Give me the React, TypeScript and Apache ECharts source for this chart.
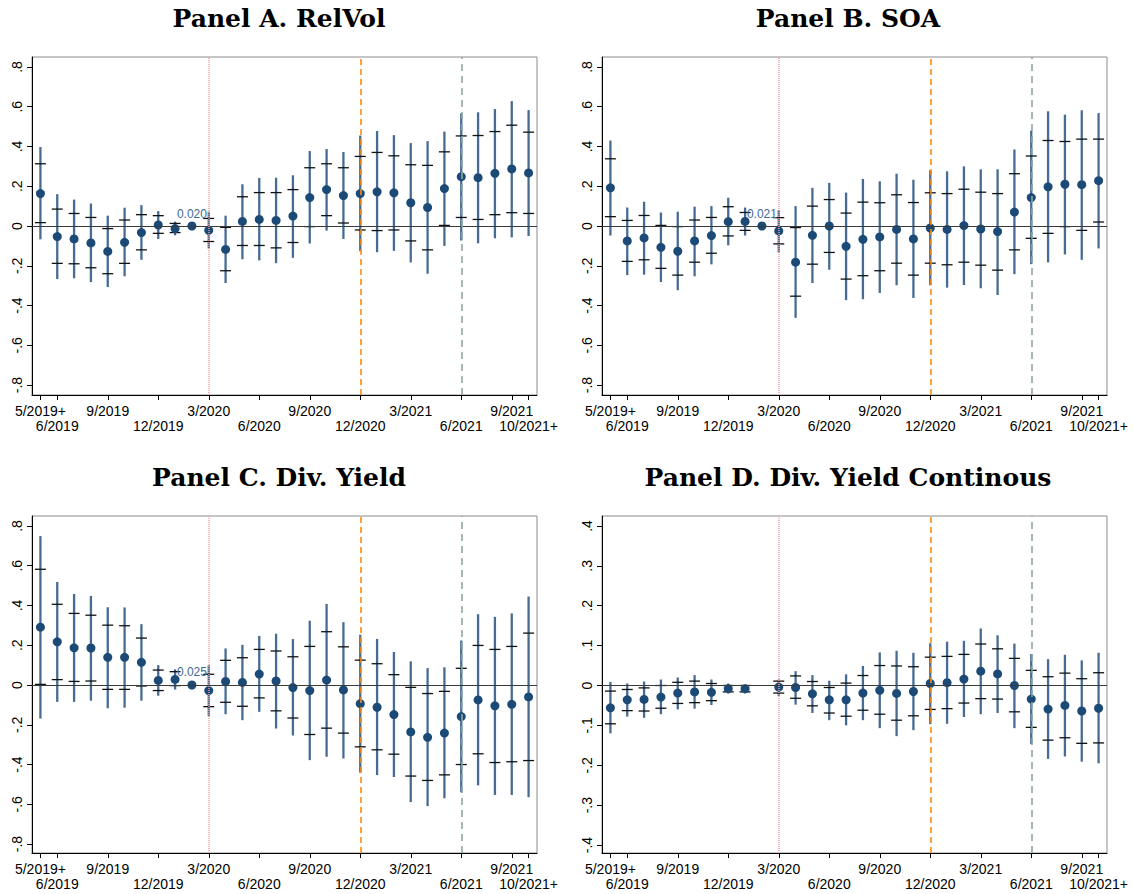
import React, { useEffect, useRef } from "react";
import * as echarts from "echarts";

// Event-time months (x positions 0..29)
const months = [
  "5/2019+", "6/2019", "7/2019", "8/2019", "9/2019", "10/2019", "11/2019", "12/2019",
  "1/2020", "2/2020", "3/2020", "4/2020", "5/2020", "6/2020", "7/2020", "8/2020",
  "9/2020", "10/2020", "11/2020", "12/2020", "1/2021", "2/2021", "3/2021", "4/2021",
  "5/2021", "6/2021", "7/2021", "8/2021", "9/2021", "10/2021+",
];
const tickIdx = [0, 1, 4, 7, 10, 13, 16, 19, 22, 25, 28, 29];
const labelRow1 = [0, 4, 10, 16, 22, 28];
const labelRow2 = [1, 7, 13, 19, 25, 29];

// Panel A. RelVol
const relVolEst = [0.163, -0.053, -0.065, -0.085, -0.128, -0.082, -0.033, 0.005, -0.013, 0, -0.022, -0.118, 0.023, 0.033, 0.028, 0.05, 0.143, 0.183, 0.153, 0.163, 0.172, 0.167, 0.117, 0.093, 0.188, 0.248, 0.243, 0.265, 0.287, 0.267];
const relVolOuterHi = [0.397, 0.16, 0.133, 0.113, 0.052, 0.092, 0.105, 0.075, 0.022, null, 0.072, 0.052, 0.21, 0.242, 0.243, 0.255, 0.377, 0.387, 0.372, 0.455, 0.478, 0.457, 0.417, 0.427, 0.475, 0.567, 0.572, 0.588, 0.628, 0.583];
const relVolOuterLo = [-0.067, -0.267, -0.263, -0.282, -0.307, -0.253, -0.17, -0.065, -0.047, null, -0.113, -0.287, -0.167, -0.173, -0.187, -0.16, -0.088, -0.023, -0.065, -0.127, -0.132, -0.125, -0.183, -0.24, -0.1, -0.073, -0.087, -0.062, -0.057, -0.05];
const relVolInnerHi = [0.313, 0.085, 0.063, 0.043, -0.013, 0.03, 0.057, 0.052, 0.013, null, 0.038, -0.007, 0.147, 0.168, 0.168, 0.183, 0.293, 0.313, 0.293, 0.35, 0.37, 0.353, 0.308, 0.305, 0.373, 0.453, 0.455, 0.475, 0.507, 0.472];
const relVolInnerLo = [0.017, -0.188, -0.19, -0.21, -0.24, -0.188, -0.12, -0.037, -0.033, null, -0.078, -0.225, -0.098, -0.098, -0.11, -0.083, -0.003, 0.052, 0.015, -0.02, -0.023, -0.02, -0.075, -0.12, 0.003, 0.043, 0.033, 0.057, 0.067, 0.063];

// Panel B. SOA
const soaEst = [0.192, -0.075, -0.06, -0.107, -0.127, -0.075, -0.048, 0.022, 0.023, 0, -0.025, -0.182, -0.047, 0.0, -0.102, -0.067, -0.055, -0.017, -0.065, -0.01, -0.017, 0.002, -0.015, -0.028, 0.07, 0.143, 0.197, 0.21, 0.208, 0.228];
const soaOuterHi = [0.43, 0.093, 0.122, 0.068, 0.072, 0.097, 0.1, 0.142, 0.093, null, 0.08, 0.1, 0.192, 0.217, 0.168, 0.237, 0.225, 0.263, 0.233, 0.28, 0.275, 0.3, 0.285, 0.285, 0.385, 0.48, 0.577, 0.56, 0.582, 0.568];
const soaOuterLo = [-0.048, -0.247, -0.245, -0.282, -0.323, -0.253, -0.193, -0.097, -0.048, null, -0.133, -0.462, -0.287, -0.22, -0.373, -0.368, -0.337, -0.298, -0.362, -0.298, -0.31, -0.297, -0.313, -0.347, -0.242, -0.192, -0.183, -0.143, -0.17, -0.113];
const soaInnerHi = [0.338, 0.028, 0.053, 0.003, -0.003, 0.03, 0.043, 0.097, 0.068, null, 0.042, -0.008, 0.1, 0.133, 0.065, 0.12, 0.117, 0.157, 0.118, 0.167, 0.163, 0.185, 0.17, 0.163, 0.263, 0.352, 0.43, 0.425, 0.437, 0.437];
const soaInnerLo = [0.047, -0.178, -0.17, -0.213, -0.247, -0.182, -0.137, -0.05, -0.022, null, -0.09, -0.353, -0.192, -0.133, -0.267, -0.25, -0.225, -0.187, -0.247, -0.187, -0.195, -0.182, -0.197, -0.222, -0.12, -0.062, -0.037, -0.003, -0.022, 0.02];

// Panel C. Div. Yield
const divEst = [0.291, 0.217, 0.187, 0.186, 0.139, 0.139, 0.114, 0.023, 0.028, 0, -0.028, 0.018, 0.013, 0.055, 0.02, -0.013, -0.028, 0.025, -0.025, -0.094, -0.112, -0.149, -0.236, -0.263, -0.242, -0.159, -0.075, -0.105, -0.097, -0.06];
const divOuterHi = [0.749, 0.518, 0.458, 0.448, 0.391, 0.39, 0.306, 0.1, 0.079, null, 0.099, 0.184, 0.202, 0.247, 0.258, 0.231, 0.323, 0.408, 0.316, 0.253, 0.232, 0.166, 0.119, 0.085, 0.089, 0.224, 0.356, 0.343, 0.36, 0.445];
const divOuterLo = [-0.169, -0.085, -0.085, -0.079, -0.117, -0.114, -0.079, -0.054, -0.023, null, -0.157, -0.147, -0.177, -0.135, -0.219, -0.254, -0.378, -0.361, -0.37, -0.441, -0.453, -0.463, -0.589, -0.609, -0.57, -0.54, -0.505, -0.553, -0.553, -0.564];
const divInnerHi = [0.582, 0.406, 0.36, 0.351, 0.301, 0.298, 0.236, 0.075, 0.067, null, 0.054, 0.124, 0.137, 0.179, 0.171, 0.142, 0.194, 0.268, 0.192, 0.125, 0.107, 0.052, -0.012, -0.043, -0.032, 0.084, 0.199, 0.179, 0.194, 0.261];
const divInnerLo = [0.003, 0.027, 0.018, 0.02, -0.022, -0.022, -0.005, -0.028, -0.003, null, -0.109, -0.087, -0.107, -0.065, -0.13, -0.166, -0.249, -0.217, -0.242, -0.311, -0.326, -0.348, -0.458, -0.48, -0.452, -0.4, -0.346, -0.39, -0.386, -0.38];

// Panel D. Div. Yield Continous
const divContEst = [-0.056, -0.036, -0.035, -0.029, -0.019, -0.016, -0.017, -0.008, -0.008, null, -0.004, -0.005, -0.021, -0.036, -0.036, -0.019, -0.012, -0.02, -0.015, 0.005, 0.007, 0.016, 0.036, 0.029, 0, -0.034, -0.059, -0.05, -0.064, -0.057];
const divContOuterHi = [0.009, 0.005, 0.01, 0.015, 0.02, 0.026, 0.015, 0.005, 0.002, null, 0.015, 0.036, 0.026, 0.012, 0.028, 0.049, 0.083, 0.087, 0.082, 0.106, 0.11, 0.112, 0.143, 0.126, 0.105, 0.079, 0.066, 0.077, 0.063, 0.082];
const divContOuterLo = [-0.12, -0.078, -0.081, -0.072, -0.06, -0.058, -0.049, -0.02, -0.02, null, -0.026, -0.048, -0.069, -0.087, -0.1, -0.087, -0.107, -0.127, -0.112, -0.097, -0.096, -0.079, -0.072, -0.069, -0.107, -0.147, -0.184, -0.178, -0.191, -0.195];
const divContInnerHi = [-0.014, -0.01, -0.006, 0, 0.008, 0.011, 0.005, 0, 0, null, 0.011, 0.024, 0.01, -0.005, 0.006, 0.025, 0.05, 0.049, 0.047, 0.071, 0.073, 0.078, 0.104, 0.092, 0.068, 0.038, 0.022, 0.031, 0.017, 0.032];
const divContInnerLo = [-0.096, -0.063, -0.064, -0.057, -0.045, -0.043, -0.038, -0.016, -0.016, null, -0.019, -0.032, -0.051, -0.069, -0.077, -0.062, -0.072, -0.087, -0.076, -0.06, -0.058, -0.044, -0.033, -0.034, -0.066, -0.105, -0.137, -0.131, -0.145, -0.144];

const yTicksWide = [-0.8, -0.6, -0.4, -0.2, 0, 0.2, 0.4, 0.6, 0.8];
const yTicksNarrow = [-0.4, -0.3, -0.2, -0.1, 0, 0.1, 0.2, 0.3, 0.4];

const refIndex = 9;
const eventLines = [10, 19, 25];

type Panel = {
  title: string;
  est: (number | null)[];
  outerHi: (number | null)[];
  outerLo: (number | null)[];
  innerHi: (number | null)[];
  innerLo: (number | null)[];
  refLabel: string | null;
  yMin: number;
  yMax: number;
  yTicks: number[];
  left: number;
  top: number;
  height: number;
  titleX: number;
  titleY: number;
};

const PLOT_W = 505;

const panels: Panel[] = [
  { title: "Panel A. RelVol", est: relVolEst, outerHi: relVolOuterHi, outerLo: relVolOuterLo, innerHi: relVolInnerHi, innerLo: relVolInnerLo, refLabel: "0.020", yMin: -0.85, yMax: 0.85, yTicks: yTicksWide, left: 32, top: 57, height: 338, titleX: 279, titleY: 18 },
  { title: "Panel B. SOA", est: soaEst, outerHi: soaOuterHi, outerLo: soaOuterLo, innerHi: soaInnerHi, innerLo: soaInnerLo, refLabel: "0.021", yMin: -0.85, yMax: 0.85, yTicks: yTicksWide, left: 602, top: 57, height: 338, titleX: 848, titleY: 18 },
  { title: "Panel C. Div. Yield", est: divEst, outerHi: divOuterHi, outerLo: divOuterLo, innerHi: divInnerHi, innerLo: divInnerLo, refLabel: "0.025", yMin: -0.845, yMax: 0.85, yTicks: yTicksWide, left: 32, top: 516, height: 337, titleX: 279, titleY: 477 },
  { title: "Panel D. Div. Yield Continous", est: divContEst, outerHi: divContOuterHi, outerLo: divContOuterLo, innerHi: divContInnerHi, innerLo: divContInnerLo, refLabel: null, yMin: -0.42, yMax: 0.425, yTicks: yTicksNarrow, left: 602, top: 516, height: 337, titleX: 848, titleY: 477 },
];

const CI_COLOR = "#466c93";
const DOT_COLOR = "#1b4a77";
const TICK_FONT = "Liberation Sans, Arial, sans-serif";

function fmtY(v: number): string {
  const r = Math.round(v * 10);
  if (r === 0) return "0";
  return (r < 0 ? "-" : "") + "." + Math.abs(r);
}

function buildOption() {
  const grid: any[] = [];
  const xAxis: any[] = [];
  const yAxis: any[] = [];
  const series: any[] = [];
  const graphic: any[] = [];

  panels.forEach((p, i) => {
    grid.push({
      left: p.left,
      top: p.top,
      width: PLOT_W,
      height: p.height,
      show: true,
      borderColor: "#8c8c8c",
      borderWidth: 1,
      backgroundColor: "#fff",
    });

    xAxis.push({
      type: "value",
      gridIndex: i,
      min: -0.5,
      max: 29.5,
      position: "bottom",
      splitLine: { show: false },
      axisLine: { show: true, onZero: false, lineStyle: { color: "#000", width: 1 } },
      axisTick: { show: true, length: 5, customValues: tickIdx, lineStyle: { color: "#000" } },
      axisLabel: {
        show: true,
        customValues: [...labelRow1, ...labelRow2],
        margin: 8,
        fontSize: 14,
        lineHeight: 15,
        color: "#000",
        fontFamily: TICK_FONT,
        formatter: (v: number) => {
          const k = Math.round(v);
          return labelRow2.includes(k) ? "\n" + months[k] : months[k];
        },
      },
    });

    yAxis.push({
      type: "value",
      gridIndex: i,
      min: p.yMin,
      max: p.yMax,
      splitLine: { show: false },
      axisLine: { show: true, onZero: false, lineStyle: { color: "#000", width: 1 } },
      axisTick: { show: true, length: 5, customValues: p.yTicks, lineStyle: { color: "#000" } },
      axisLabel: {
        show: true,
        customValues: p.yTicks,
        rotate: 90,
        margin: 8,
        fontSize: 14,
        color: "#000",
        fontFamily: TICK_FONT,
        formatter: (v: number) => fmtY(v),
      },
    });

    const ciData: any[] = [];
    const estData: any[] = [];
    p.est.forEach((e, k) => {
      const lo = p.outerLo[k];
      const hi = p.outerHi[k];
      const ilo = p.innerLo[k];
      const ihi = p.innerHi[k];
      if (lo !== null && hi !== null && ilo !== null && ihi !== null) {
        ciData.push([k, lo, hi, ilo, ihi]);
      }
      if (e !== null) {
        if (k === refIndex && p.refLabel) {
          estData.push({
            value: [k, e],
            label: {
              show: true,
              position: "top",
              distance: 2,
              formatter: p.refLabel,
              color: "#3d6a96",
              fontSize: 12,
              fontFamily: TICK_FONT,
            },
          });
        } else {
          estData.push([k, e]);
        }
      }
    });

    series.push({
      type: "custom",
      xAxisIndex: i,
      yAxisIndex: i,
      data: ciData,
      encode: { x: 0, y: [1, 2, 3, 4] },
      clip: false,
      renderItem: (params: any, api: any) => {
        const x = api.value(0);
        const lo = api.coord([x, api.value(1)]);
        const hi = api.coord([x, api.value(2)]);
        const ilo = api.coord([x, api.value(3)]);
        const ihi = api.coord([x, api.value(4)]);
        const hw = 5.5;
        return {
          type: "group",
          children: [
            { type: "line", shape: { x1: lo[0], y1: lo[1], x2: hi[0], y2: hi[1] }, style: { stroke: CI_COLOR, lineWidth: 2.3 } },
            { type: "line", shape: { x1: ilo[0] - hw, y1: ilo[1], x2: ilo[0] + hw, y2: ilo[1] }, style: { stroke: "#111", lineWidth: 1.3 } },
            { type: "line", shape: { x1: ihi[0] - hw, y1: ihi[1], x2: ihi[0] + hw, y2: ihi[1] }, style: { stroke: "#111", lineWidth: 1.3 } },
          ],
        };
      },
      markLine: {
        silent: true,
        symbol: ["none", "none"],
        label: { show: false },
        data: [
          { yAxis: 0, lineStyle: { color: "#3a3a3a", width: 1, type: "solid" } },
          { xAxis: eventLines[0], lineStyle: { color: "#f29a9a", width: 1.5, type: [1, 1] } },
          { xAxis: eventLines[1], lineStyle: { color: "#ff8a10", width: 1.6, type: [6, 4] } },
          { xAxis: eventLines[2], lineStyle: { color: "#8fa7a0", width: 1.6, type: [7, 5] } },
        ],
      },
      z: 2,
    });

    series.push({
      type: "scatter",
      xAxisIndex: i,
      yAxisIndex: i,
      data: estData,
      symbol: "circle",
      symbolSize: 9,
      itemStyle: { color: DOT_COLOR, opacity: 1 },
      z: 3,
    });

    graphic.push({
      type: "text",
      x: p.titleX,
      y: p.titleY,
      style: {
        text: p.title,
        align: "center",
        verticalAlign: "middle",
        textAlign: "center",
        textVerticalAlign: "middle",
        fontFamily: "DejaVu Serif",
        fontWeight: "bold",
        fontSize: 25,
        fill: "#000",
      },
    });
  });

  return {
    animation: false,
    backgroundColor: "#fff",
    grid,
    xAxis,
    yAxis,
    series,
    graphic,
  };
}

export default function App() {
  const ref = useRef<HTMLDivElement | null>(null);
  useEffect(() => {
    if (!ref.current) return;
    const chart = echarts.init(ref.current, null, { renderer: "svg", width: 1133, height: 894 });
    chart.setOption(buildOption() as any);
    return () => chart.dispose();
  }, []);
  return (
    <div
      ref={ref}
      style={{ position: "absolute", left: 0, top: 0, width: 1133, height: 894, background: "#fff" }}
    />
  );
}
